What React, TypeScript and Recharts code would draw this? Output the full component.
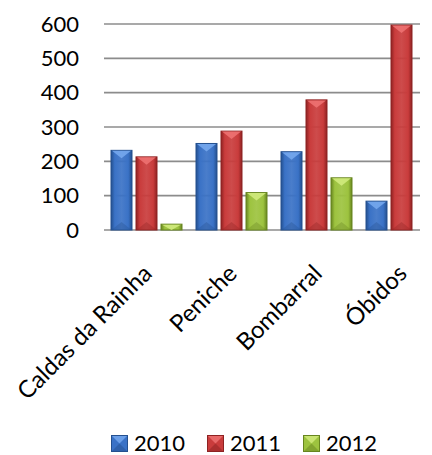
import { BarChart, Bar, XAxis, YAxis, CartesianGrid, Legend } from 'recharts'

const towns = ['Caldas da Rainha', 'Peniche', 'Bombarral', 'Óbidos']
const years = ['2010', '2011', '2012']
const v2010 = [232, 252, 228, 84]
const v2011 = [213, 288, 379, 597]
const v2012 = [17, 109, 152, 0]
const yTicks = [0, 100, 200, 300, 400, 500, 600]

const data = towns.map((name, i) => ({
  name,
  '2010': v2010[i],
  '2011': v2011[i],
  '2012': v2012[i],
}))

// base / edge / highlight for the bevelled columns
const palette: Record<string, { base: string; dark: string; light: string }> = {
  '2010': { base: '#3a72c6', dark: '#24508f', light: '#78aaf0' },
  '2011': { base: '#c93c3c', dark: '#8e2222', light: '#f07474' },
  '2012': { base: '#9dc33f', dark: '#67851f', light: '#d4ec80' },
}

const FONT = 'Lato, "Open Sans", sans-serif'

function gradId(key: string) {
  return 'bevel-' + key
}

function BevelBar(props: any) {
  const { x, y, width, height, seriesKey } = props
  if (!height || height <= 0) return null
  const c = palette[seriesKey]
  const tri = Math.min(height, width * 0.38)
  return (
    <g>
      <rect x={x} y={y} width={width} height={height} fill={`url(#${gradId(seriesKey)})`} stroke={c.dark} strokeWidth={1} />
      <polygon
        points={`${x + 1},${y + 0.5} ${x + width - 1},${y + 0.5} ${x + width / 2},${y + tri}`}
        fill={c.light}
        opacity={0.85}
      />
      {height > 12 && (
        <polygon
          points={`${x + 1},${y + height - 0.5} ${x + width - 1},${y + height - 0.5} ${x + width / 2},${y + height - tri}`}
          fill={c.dark}
          opacity={0.35}
        />
      )}
    </g>
  )
}

function TownTick(props: any) {
  const { x, y, payload } = props
  const tx = x + 1
  const ty = y + 31
  return (
    <text
      x={tx}
      y={ty}
      dy="0.35em"
      textAnchor="end"
      transform={`rotate(-45 ${tx} ${ty})`}
      fill="#000"
      fontSize={24}
      fontFamily={FONT}
    >
      {payload.value}
    </text>
  )
}

function GridLine(props: any) {
  const { x1, x2, y1 } = props
  return <line x1={x1} x2={x2 - 24} y1={y1} y2={y1} stroke="#8c8c8c" strokeWidth={1.6} />
}

function LegendRow() {
  return (
    <div
      style={{
        display: 'flex',
        justifyContent: 'center',
        paddingLeft: 36,
        paddingTop: 21,
        gap: 22,
        fontFamily: FONT,
        fontSize: 22,
        lineHeight: '22px',
        color: '#000',
      }}
    >
      {years.map((yr) => {
        const c = palette[yr]
        return (
          <div key={yr} style={{ display: 'flex', alignItems: 'center', gap: 6, height: 22 }}>
            <svg width={17} height={17}>
              <rect x={0.5} y={0.5} width={16} height={16} fill={c.base} stroke={c.dark} />
              <polygon points="1,1 16,1 8.5,8.5" fill={c.light} opacity={0.8} />
              <polygon points="1,16 16,16 8.5,8.5" fill={c.dark} opacity={0.5} />
            </svg>
            <span>{yr}</span>
          </div>
        )
      })}
    </div>
  )
}

export default function App() {
  return (
    <div style={{ width: 424, height: 447 }}>
      <BarChart
        width={424}
        height={447}
        data={data}
        margin={{ top: 16, right: -12, left: 0, bottom: 0 }}
        barSize={21}
        barGap={4}
        barCategoryGap={7}
      >
        <defs>
          {years.map((yr) => {
            const c = palette[yr]
            return (
              <linearGradient key={yr} id={gradId(yr)} x1="0" y1="0" x2="1" y2="0">
                <stop offset="0%" stopColor={c.dark} />
                <stop offset="18%" stopColor={c.base} />
                <stop offset="50%" stopColor={c.base} stopOpacity={0.92} />
                <stop offset="82%" stopColor={c.base} />
                <stop offset="100%" stopColor={c.dark} />
              </linearGradient>
            )
          })}
        </defs>
        <CartesianGrid vertical={false} horizontal={GridLine as any} />
        <XAxis
          dataKey="name"
          axisLine={false}
          tickLine={false}
          interval={0}
          height={181}
          tick={<TownTick />}
        />
        <YAxis
          domain={[0, 600]}
          ticks={yTicks}
          axisLine={false}
          tickLine={false}
          tickSize={0}
          tickMargin={25}
          width={96}
          tick={{ fill: '#000', fontSize: 22, fontFamily: FONT }}
        />
        <Legend verticalAlign="bottom" height={44} content={<LegendRow />} />
        {years.map((yr) => (
          <Bar
            key={yr}
            dataKey={yr}
            fill={palette[yr].base}
            isAnimationActive={false}
            shape={(p: any) => <BevelBar {...p} seriesKey={yr} />}
          />
        ))}
      </BarChart>
    </div>
  )
}
